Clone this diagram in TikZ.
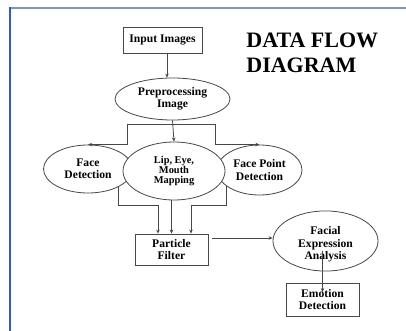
\documentclass[tikz,border=0pt]{standalone}
\usepackage{fontspec}
\setmainfont{Liberation Serif}
\usetikzlibrary{arrows.meta,shapes.geometric,positioning}

\begin{document}
\begin{tikzpicture}[
        x=1pt,y=-1pt,
        line width=0.8pt,
        every node/.style={font=\bfseries\fontsize{11.6}{12.5}\selectfont,align=center,inner sep=0pt},
        box/.style={draw=lnx,rectangle},
        oval/.style={draw=lnx,ellipse,fill=white},
        arr/.style={draw=lnx,-{Stealth[length=4pt,width=3.5pt]}},
        lnk/.style={draw=lnx}
    ]
    \colorlet{lnx}{black!72}
    \definecolor{bdtop}{RGB}{120,146,224}
    \definecolor{bdleft}{RGB}{45,88,214}

    \useasboundingbox[fill=white] (0,0) rectangle (406,331);
    \draw[bdtop,line width=1.2pt]  (10,8) -- (406,8);
    \draw[bdleft,line width=1.8pt] (10,7.5) -- (10,331);

    % title
    \node (title) [anchor=north west,align=left,font=\bfseries\fontsize{22}{24.5}\selectfont]
        at (246,33) {DATA FLOW\\DIAGRAM};

    % boxes and ellipses
    \node (input) [box,minimum width=79pt,minimum height=26pt] at (162.5,40)  {Input Images};
    \node (pre)   [oval,minimum width=115pt,minimum height=42pt] at (172.5,99) {Preprocessing\\Image};
    \node (face)  [oval,minimum width=89pt,minimum height=48pt]  at (88,169)   {Face\\Detection};
    \node (fpd)   [oval,minimum width=85pt,minimum height=50pt]  at (259.5,170) {Face Point\\Detection};
    \node (lip)   [oval,minimum width=102pt,minimum height=58pt,
                   font=\bfseries\fontsize{10.4}{10.4}\selectfont] at (174,171) {Lip, Eye,\\Mouth\\Mapping};
    \node (pf)    [box,minimum width=73pt,minimum height=31pt]  at (171.5,249.5) {Particle\\Filter};
    \node (fea)   [oval,minimum width=105pt,minimum height=45pt,text height=40pt] at (325.5,241) {Facial\\Expression\\Analysis};
    \node (emo)   [box,minimum width=73pt,minimum height=33pt]  at (322.5,299.5) {Emotion\\Detection};

    \coordinate (brL) at (127,124);
    \coordinate (brR) at (215,124);
    \coordinate (jl)  at (158,205);
    \coordinate (jr)  at (191,205);

    % connectors
    \draw[arr] ([xshift=4.5pt]input.south) -- ([xshift=4.5pt]input.south |- pre.north);
    \draw[arr] (pre.south) -- (lip.north);
    \draw[lnk] (brL) -- (brR);
    \draw[arr] (brL) |- (face.north);
    \draw[arr] (brR) |- (fpd.north);
    \draw[arr] (face.-30) |- (jl) -- (jl |- pf.north);
    \draw[arr] ([xshift=-2.5pt]lip.south) -- ([xshift=-2.5pt]lip.south |- pf.north);
    \draw[arr] (fpd.206) |- (jr) -- (jr |- pf.north);
    \draw[arr] ([xshift=4pt]pf.east |- 0,238) -- (fea.west |- 0,238);
    \draw[arr] ([shift={(-3pt,-9.5pt)}]fea.center) -- ([shift={(-3pt,-9.5pt)}]fea.center |- emo.north);
\end{tikzpicture}
\end{document}
